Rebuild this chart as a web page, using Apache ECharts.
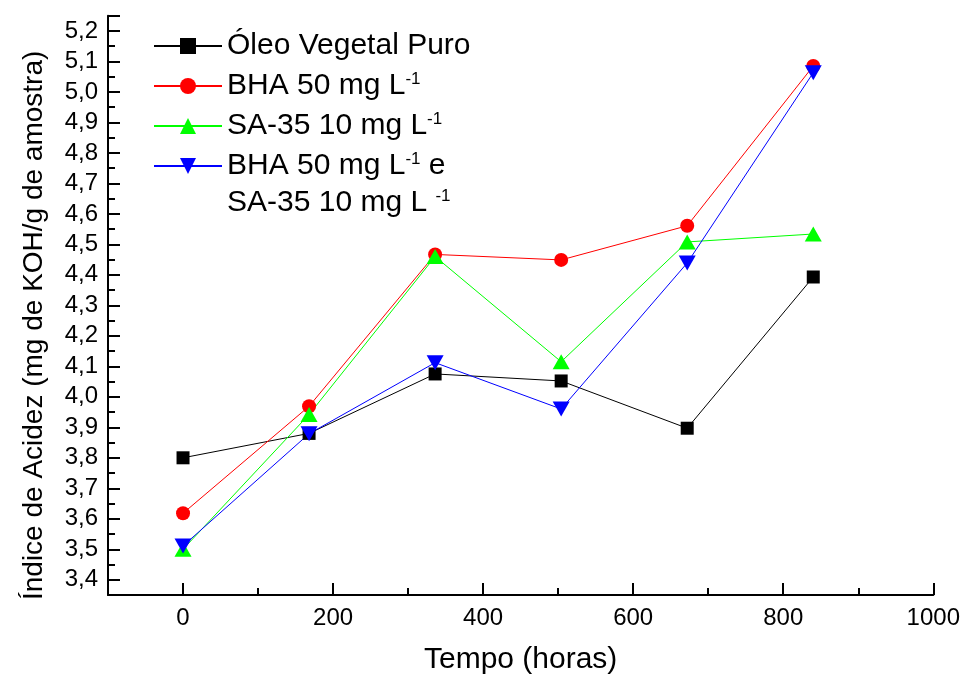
<!DOCTYPE html>
<html>
<head>
<meta charset="utf-8">
<script src="https://cdn.jsdelivr.net/npm/echarts@6/dist/echarts.min.js"></script>
<style>
  html, body { margin: 0; padding: 0; background: #fff; }
  #chart { width: 963px; height: 680px; }
</style>
</head>
<body>
<div id="chart"></div>
<script>
// dados
var tempo = [0, 168, 336, 504, 672, 840];
var oleo = [3.80, 3.88, 4.075, 4.052, 3.897, 4.393];
var bha = [3.618, 3.969, 4.467, 4.449, 4.561, 5.085];
var sa35 = [3.50, 3.942, 4.46, 4.115, 4.508, 4.534];
var bhaSa = [3.511, 3.879, 4.112, 3.96, 4.439, 5.063];

var nomes = ['Óleo Vegetal Puro', 'BHA 50 mg L-1', 'SA-35 10 mg L-1', 'BHA 50 mg L-1 e SA-35 10 mg L-1'];
var legendas = ['Óleo Vegetal Puro', 'BHA 50 mg L{s|-1}', 'SA-35 10 mg L{s|-1}', 'BHA 50 mg L{s|-1} e'];

var fonte = 'Liberation Sans, Arial, sans-serif';

function pares(ys) {
    var out = [];
    for (var i = 0; i < tempo.length; i++) {
        out.push([tempo[i], ys[i]]);
    }
    return out;
}

function serie(nome, ys, cor, simbolo, tam, rot) {
    return {
        name: nome,
        type: 'line',
        xAxisIndex: 0,
        yAxisIndex: 0,
        symbol: simbolo,
        symbolSize: tam,
        symbolRotate: rot || 0,
        itemStyle: { color: cor, opacity: 1 },
        lineStyle: { color: cor, width: 1 },
        data: pares(ys)
    };
}

var option = {
    backgroundColor: '#fff',
    animation: false,
    textStyle: { fontFamily: fonte },
    grid: { left: 108, right: 29, top: 15.7, bottom: 79.6 },
    legend: {
        orient: 'vertical',
        left: 148,
        top: 26,
        itemWidth: 68,
        itemHeight: 20,
        itemGap: 10,
        data: nomes,
        formatter: function (name) {
            return legendas[nomes.indexOf(name)];
        },
        textStyle: {
            color: '#000',
            fontSize: 30,
            lineHeight: 30,
            fontFamily: fonte,
            rich: {
                s: { fontSize: 17, lineHeight: 17, verticalAlign: 'top', fontFamily: fonte, color: '#000' }
            }
        }
    },
    graphic: [{
        type: 'text',
        left: 227,
        top: 188,
        style: {
            text: 'SA-35 10 mg L {s|-1}',
            fill: '#000',
            font: '30px ' + fonte,
            lineHeight: 30,
            rich: {
                s: { fontSize: 17, lineHeight: 17, verticalAlign: 'top', fontFamily: fonte, fill: '#000' }
            }
        }
    }],
    xAxis: [{
        type: 'value',
        position: 'bottom',
        min: -100,
        max: 1000,
        interval: 100,
        name: 'Tempo (horas)',
        nameLocation: 'middle',
        nameGap: 50,
        nameTextStyle: { color: '#000', fontSize: 30, fontFamily: fonte },
        axisLine: { show: true, onZero: false, lineStyle: { color: '#000', width: 2 } },
        axisTick: { show: true, inside: true, length: 7, lineStyle: { color: '#000', width: 2 } },
        axisLabel: { show: false },
        splitLine: { show: false }
    }, {
        type: 'value',
        position: 'bottom',
        min: -100,
        max: 1000,
        minInterval: 200,
        maxInterval: 200,
        axisLine: { show: false, onZero: false },
        axisTick: { show: true, inside: true, length: 12, lineStyle: { color: '#000', width: 2 } },
        axisLabel: {
            color: '#000',
            fontSize: 24,
            margin: 11,
            fontFamily: fonte,
            formatter: function (v) {
                return (v >= 0 && v % 200 === 0) ? String(v) : '';
            }
        },
        splitLine: { show: false }
    }],
    yAxis: [{
        type: 'value',
        position: 'left',
        min: 3.35,
        max: 5.25,
        interval: 0.05,
        name: 'Índice de Acidez (mg de KOH/g de amostra)',
        nameLocation: 'middle',
        nameGap: 60,
        nameTextStyle: { color: '#000', fontSize: 28, fontFamily: fonte, padding: [0, 40, 0, 0] },
        axisLine: { show: true, onZero: false, lineStyle: { color: '#000', width: 2 } },
        axisTick: { show: true, inside: true, length: 7, lineStyle: { color: '#000', width: 2 } },
        axisLabel: { show: false },
        splitLine: { show: false }
    }, {
        type: 'value',
        position: 'left',
        min: 3.35,
        max: 5.25,
        minInterval: 0.1,
        maxInterval: 0.1,
        axisLine: { show: false, onZero: false },
        axisTick: { show: true, inside: true, length: 12, lineStyle: { color: '#000', width: 2 } },
        axisLabel: {
            color: '#000',
            fontSize: 24,
            margin: 10,
            fontFamily: fonte,
            formatter: function (v) {
                var d = v * 10;
                if (Math.abs(d - Math.round(d)) > 1e-6) return '';
                return v.toFixed(1).replace('.', ',');
            }
        },
        splitLine: { show: false }
    }],
    series: [
        serie(nomes[0], oleo, '#000000', 'rect', 13),
        serie(nomes[1], bha, '#ff0000', 'circle', 14),
        serie(nomes[2], sa35, '#00ff00', 'triangle', [17, 15]),
        serie(nomes[3], bhaSa, '#0000ff', 'triangle', [17, 15], 180)
    ]
};

var myChart = echarts.init(document.getElementById('chart'));
myChart.setOption(option);
</script>
</body>
</html>
